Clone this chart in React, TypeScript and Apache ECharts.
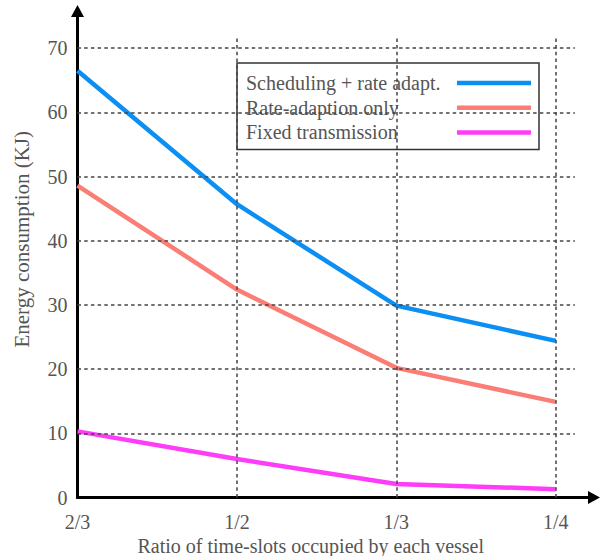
import React, { useEffect, useRef } from "react";
import * as echarts from "echarts";

const categories = ["2/3", "1/2", "1/3", "1/4"];
const seriesNames = ["Scheduling + rate adapt.", "Rate-adaption only", "Fixed transmission"];
const schedulingRate = [66.5, 45.7, 29.9, 24.4];
const rateOnly = [48.6, 32.4, 20.2, 14.9];
const fixedTx = [10.3, 6.0, 2.1, 1.3];
const yTicks = [10, 20, 30, 40, 50, 60, 70];
const colors = ["#0b8ff3", "#fb7e76", "#ff3cf8"];

const FONT = "'Liberation Serif', 'Times New Roman', serif";
const X_MAX = 3.24;
const Y_MAX = 75.8;
const GRID_X_END = 3.12;
const GRID_Y_END = 71.8;

export default function App() {
  const ref = useRef<HTMLDivElement>(null);
  useEffect(() => {
    if (!ref.current) return;
    const chart = echarts.init(ref.current, null, { renderer: "svg" });
    const toPts = (vals: number[]) => vals.map((v, i) => [i, v]);
    const gridLines: any[] = [];
    yTicks.forEach((t) => gridLines.push([{ coord: [0, t] }, { coord: [GRID_X_END, t] }]));
    categories.forEach((_, i) => {
      if (i > 0) gridLines.push([{ coord: [i, 0] }, { coord: [i, GRID_Y_END] }]);
    });
    const allVals = [schedulingRate, rateOnly, fixedTx];
    chart.setOption({
      animation: false,
      grid: { left: 77.5, right: 12, top: 11, bottom: 58.5, outerBoundsMode: "none" },
      legend: {
        data: seriesNames,
        orient: "vertical",
        left: 237,
        top: 63,
        align: "right",
        icon: "rect",
        itemWidth: 74,
        itemHeight: 4.5,
        itemGap: 4.7,
        padding: [10, 8, 7, 9],
        borderColor: "#333",
        borderWidth: 1.5,
        backgroundColor: "#fff",
        formatter: (name: string) => `{a|${name}}`,
        textStyle: {
          rich: {
            a: { width: 206, align: "left", fontSize: 20, lineHeight: 20, fontFamily: FONT, color: "#555" },
          },
        },
      },
      xAxis: {
        type: "value",
        min: 0,
        max: X_MAX,
        interval: 1,
        name: "Ratio of time-slots occupied by each vessel",
        nameLocation: "middle",
        nameGap: 37,
        nameTextStyle: { fontSize: 20, fontFamily: FONT, color: "#555", padding: [0, 50, 0, 0] },
        axisLine: {
          lineStyle: { color: "#000", width: 3 },
          symbol: ["none", "triangle"],
          symbolSize: [13, 12],
        },
        axisTick: { show: false },
        splitLine: { show: false },
        axisLabel: {
          margin: 14,
          fontSize: 20,
          fontFamily: FONT,
          color: "#555",
          formatter: (v: number) => (Number.isInteger(v) && categories[v] !== undefined ? categories[v] : ""),
        },
      },
      yAxis: {
        type: "value",
        min: 0,
        max: Y_MAX,
        interval: 10,
        name: "Energy consumption (KJ)",
        nameLocation: "middle",
        nameGap: 45,
        nameTextStyle: { fontSize: 21, fontFamily: FONT, color: "#555", padding: [0, 0, 0, 30] },
        axisLine: {
          lineStyle: { color: "#000", width: 3 },
          symbol: ["none", "triangle"],
          symbolSize: [13, 12],
        },
        axisTick: { show: false },
        splitLine: { show: false },
        axisLabel: {
          margin: 10,
          fontSize: 20,
          fontFamily: FONT,
          color: "#555",
          formatter: (v: number) => (v % 10 === 0 ? String(v) : ""),
        },
      },
      series: [
        {
          name: "grid",
          type: "line",
          data: [],
          z: 1,
          silent: true,
          markLine: {
            silent: true,
            symbol: ["none", "none"],
            label: { show: false },
            lineStyle: { color: "#444", width: 1.5, type: [3.5, 3.2] },
            emphasis: { disabled: true },
            data: gridLines,
          },
        },
        ...seriesNames.map((name, k) => ({
          name,
          type: "line",
          data: toPts(allVals[k]),
          symbol: "none",
          z: 3,
          color: colors[k],
          lineStyle: { color: colors[k], width: 4.5 },
        })),
      ],
    });
    return () => chart.dispose();
  }, []);
  return (
    <div
      ref={ref}
      style={{ position: "fixed", left: 0, top: 0, width: 606, height: 556, background: "#fff" }}
    />
  );
}
